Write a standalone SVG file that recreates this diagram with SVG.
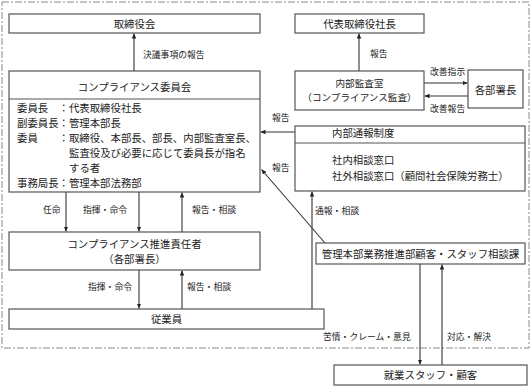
<svg xmlns="http://www.w3.org/2000/svg" width="531" height="386" viewBox="0 0 531 386">
<style>
.box{fill:#fff;stroke:#555;stroke-width:1.2}
.ln{stroke:#333;stroke-width:1.1;fill:none;marker-end:url(#ah)}
.t{font-family:"Noto Sans CJK JP","Noto Sans CJK SC",sans-serif;font-size:10.4px;fill:#222}
.s{font-size:9.6px}
.c{text-anchor:middle}
.lb{font-family:"Noto Sans CJK JP","Noto Sans CJK SC",sans-serif;font-size:8.8px;fill:#222}
.border{fill:none;stroke:#888;stroke-width:1;stroke-dasharray:7 2 2 2}
</style>
<defs>
<marker id="ah" markerUnits="userSpaceOnUse" markerWidth="6" markerHeight="5" refX="5" refY="2.25" orient="auto">
<path d="M0,0 L5,2.25 L0,4.5 z" fill="#222"/>
</marker>
</defs>
<rect width="531" height="386" fill="#fff"/>
<rect class="border" x="2" y="2" width="527" height="346"/>

<g id="connectors">
<line class="ln" x1="134" y1="71" x2="134" y2="33.5"/>
<line class="ln" x1="359" y1="71" x2="359" y2="33.5"/>
<line class="ln" x1="424" y1="83" x2="467.5" y2="83"/>
<line class="ln" x1="468" y1="96" x2="424.5" y2="96"/>
<line class="ln" x1="295" y1="132" x2="260.5" y2="132"/>
<line class="ln" x1="325" y1="243" x2="261.5" y2="169.5"/>
<line class="ln" x1="66" y1="192" x2="66" y2="231.5"/>
<line class="ln" x1="139" y1="192" x2="139" y2="231.5"/>
<line class="ln" x1="182" y1="232" x2="182" y2="192.5"/>
<line class="ln" x1="139" y1="270" x2="139" y2="308.5"/>
<line class="ln" x1="182" y1="309" x2="182" y2="270.5"/>
<line class="ln" x1="312" y1="309" x2="312" y2="191.5"/>
<line class="ln" x1="420" y1="264" x2="420" y2="364.5"/>
<line class="ln" x1="442" y1="365" x2="442" y2="264.5"/>
<text class="lb" x="143" y="58.2">決議事項の報告</text>
<text class="lb" x="370" y="57.2">報告</text>
<text class="lb" x="430" y="75.2">改善指示</text>
<text class="lb" x="430" y="112.2">改善報告</text>
<text class="lb" x="272" y="121.2">報告</text>
<text class="lb" x="272" y="171.2">報告</text>
<text class="lb" x="43" y="213.2">任命</text>
<text class="lb" x="83" y="213.2">指揮・命令</text>
<text class="lb" x="192" y="213.2">報告・相談</text>
<text class="lb" x="88" y="290.2">指揮・命令</text>
<text class="lb" x="187" y="290.2">報告・相談</text>
<text class="lb" x="315" y="214.2">通報・相談</text>
<text class="lb" x="323" y="340.2">苦情・クレーム・意見</text>
<text class="lb" x="447" y="340.2">対応・解決</text>
</g>

<g id="torishimariyakukai">
<rect class="box" x="9" y="14" width="251" height="19"/>
<text class="t c" x="134.5" y="27.8">取締役会</text>
</g>

<g id="shacho">
<rect class="box" x="295" y="14" width="129" height="19"/>
<text class="t c" x="359.5" y="27.8">代表取締役社長</text>
</g>

<g id="iinkai">
<rect class="box" x="9" y="71" width="251" height="121"/>
<line x1="9" y1="99" x2="260" y2="99" stroke="#555" stroke-width="1.2"/>
<text class="t c" x="134.5" y="90.8">コンプライアンス委員会</text>
<text class="t" x="17" y="111.8">委員長　：代表取締役社長</text>
<text class="t" x="17" y="126.8">副委員長：管理本部長</text>
<text class="t" x="17" y="141.8">委員　　：取締役、本部長、部長、内部監査室長、</text>
<text class="t" x="69" y="156.8">監査役及び必要に応じて委員長が指名</text>
<text class="t" x="69" y="172.3">する者</text>
<text class="t" x="17" y="187.3">事務局長：管理本部法務部</text>
</g>

<g id="naibukansa">
<rect class="box" x="295" y="71" width="129" height="39"/>
<text class="t s c" x="359.5" y="86.5">内部監査室</text>
<text class="t s c" x="359.5" y="101">（コンプライアンス監査）</text>
</g>

<g id="kakubusho">
<rect class="box" x="468" y="70" width="55" height="38"/>
<text class="t c" x="495.5" y="93.8">各部署長</text>
</g>

<g id="naibutsuho">
<rect class="box" x="295" y="126" width="230" height="65"/>
<line x1="295" y1="143" x2="525" y2="143" stroke="#555" stroke-width="1.2"/>
<text class="t" x="332" y="136.8">内部通報制度</text>
<text class="t" x="332" y="163.8">社内相談窓口</text>
<text class="t" x="332" y="179.8">社外相談窓口（顧問社会保険労務士）</text>
</g>

<g id="suishin">
<rect class="box" x="9" y="232" width="251" height="38"/>
<text class="t c" x="134.5" y="247.5">コンプライアンス推進責任者</text>
<text class="t c" x="134.5" y="262.5">（各部署長）</text>
</g>

<g id="sodanka">
<rect class="box" x="316" y="243" width="209" height="21"/>
<text class="t c" x="420.5" y="257.8">管理本部業務推進部顧客・スタッフ相談課</text>
</g>

<g id="jugyoin">
<rect class="box" x="9" y="309" width="315" height="20"/>
<text class="t c" x="166.5" y="322.8">従業員</text>
</g>

<g id="kokyaku">
<rect class="box" x="334" y="365" width="193" height="20"/>
<text class="t c" x="430.5" y="378.8">就業スタッフ・顧客</text>
</g>
</svg>
